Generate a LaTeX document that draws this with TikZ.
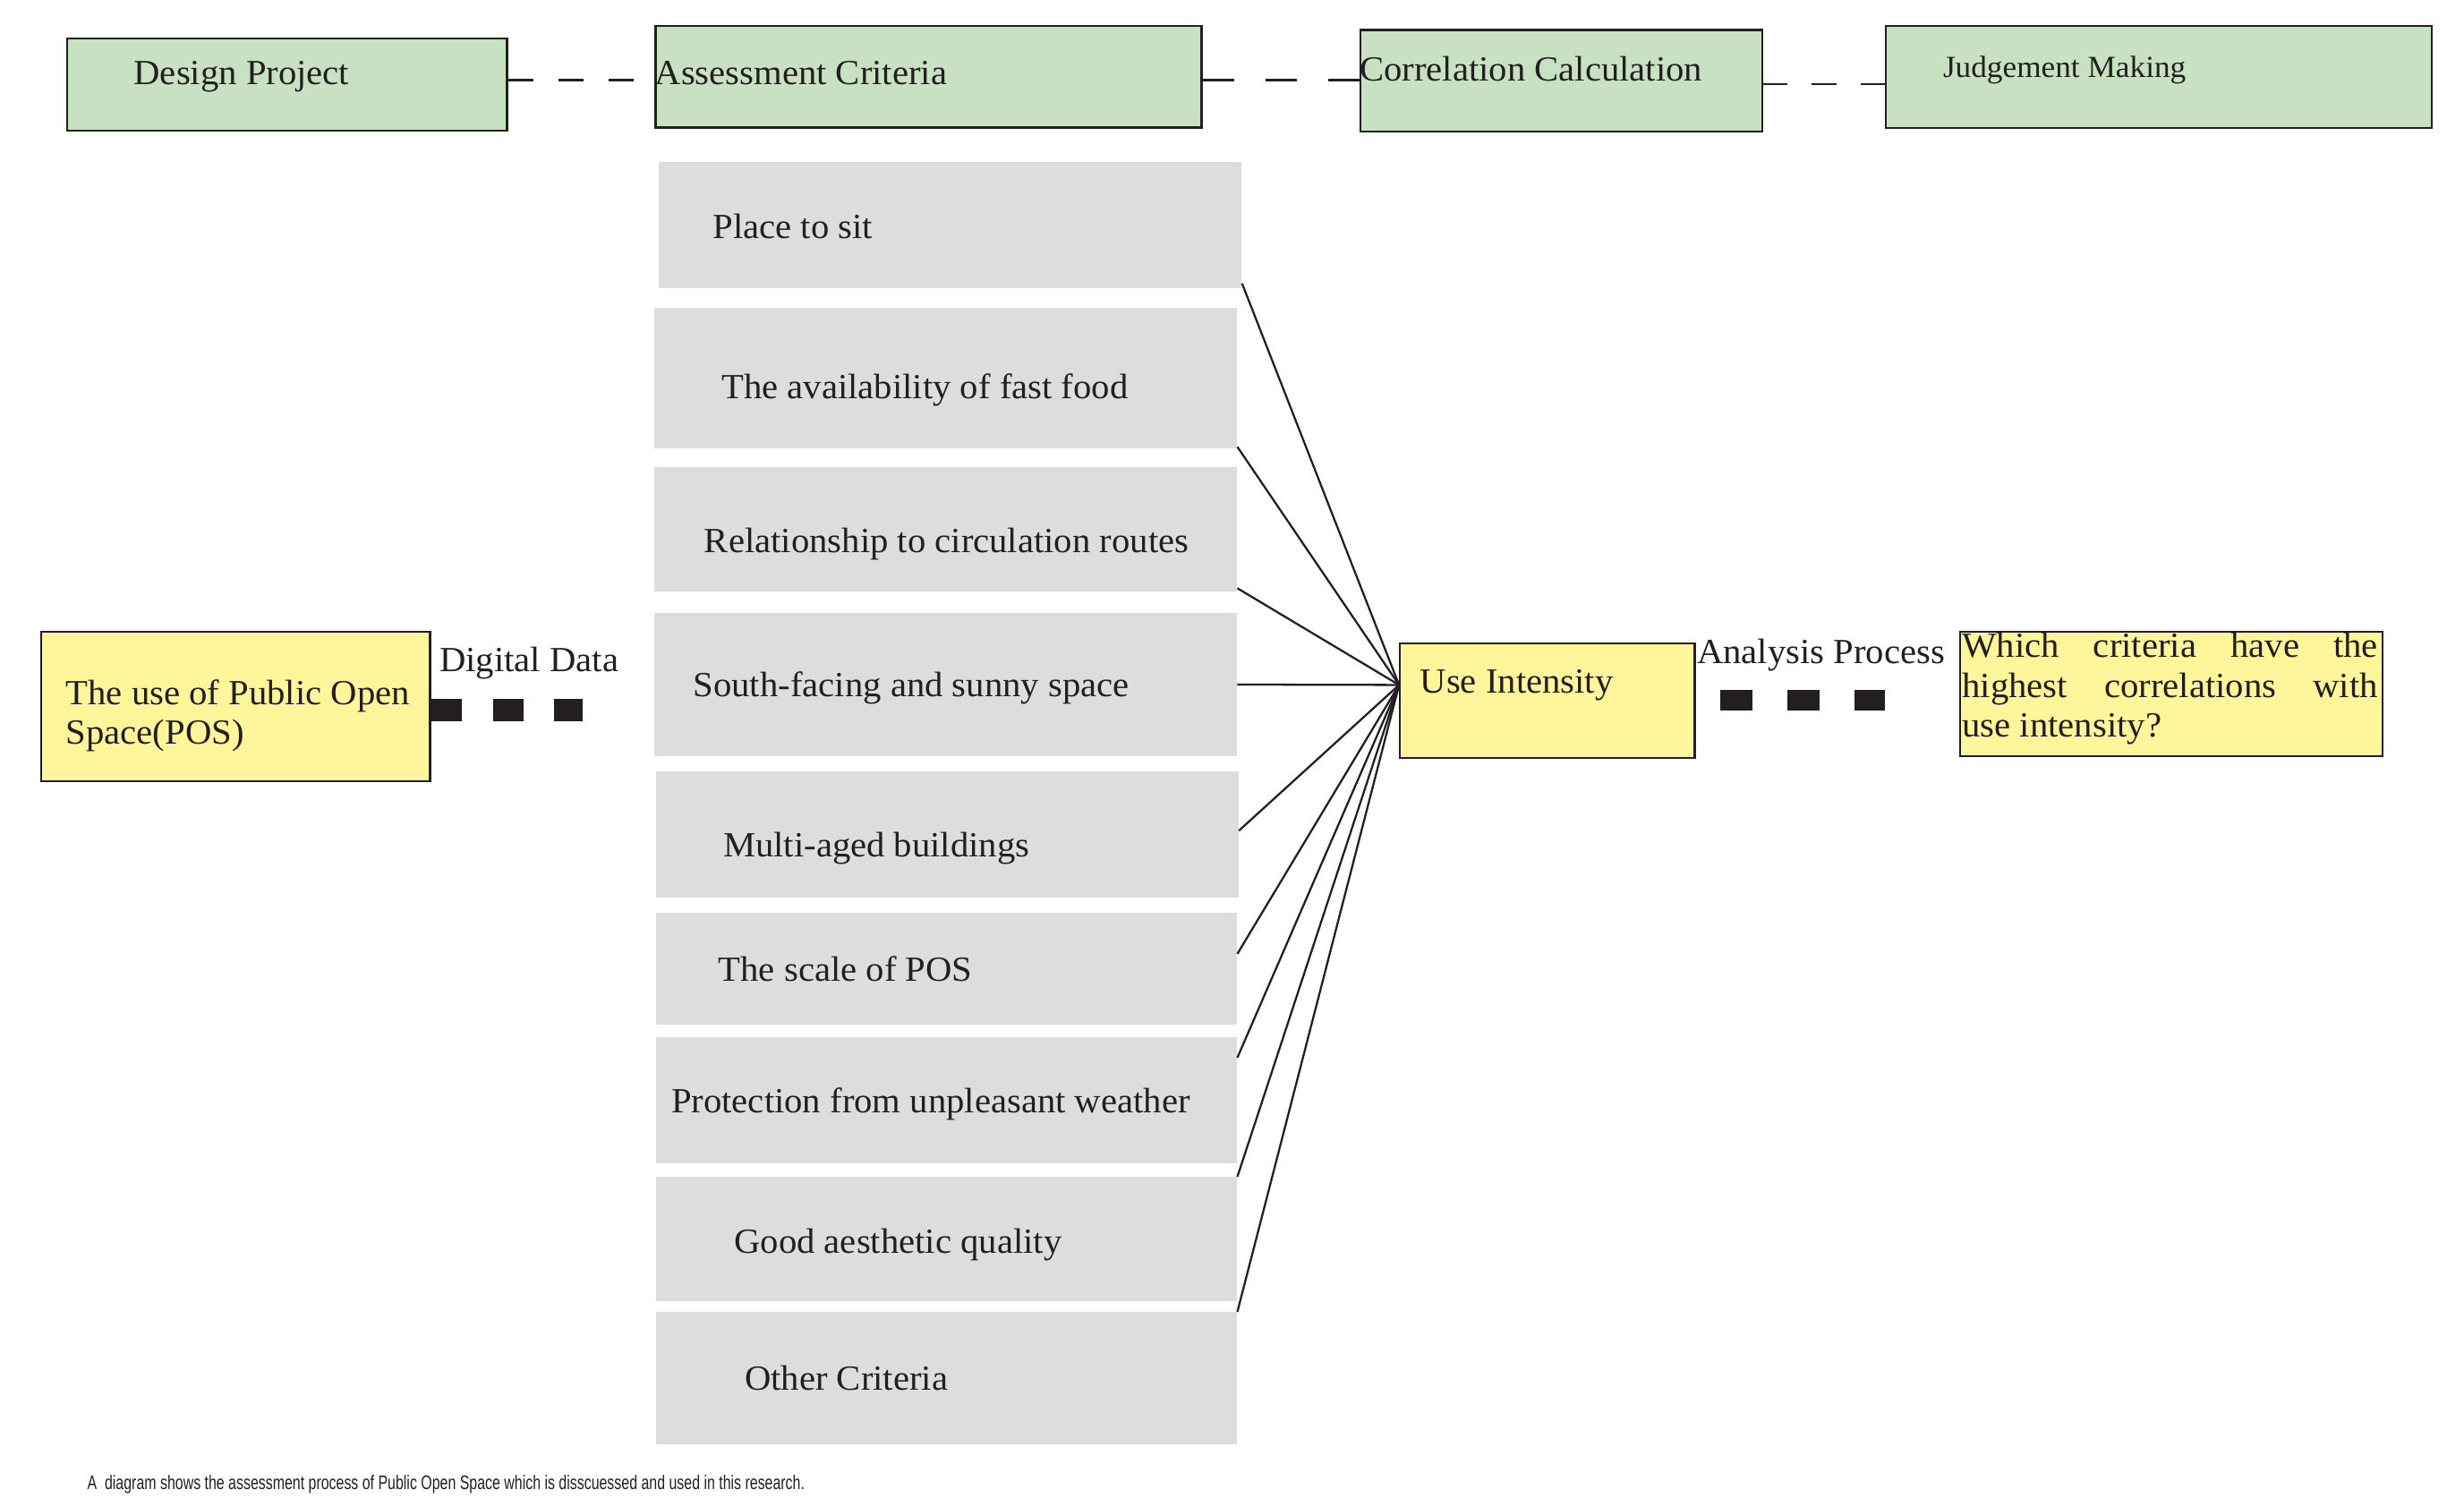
\documentclass[tikz,border=0pt]{standalone}
\usepackage{fontspec}
\setmainfont[FakeStretch=1.03]{Liberation Serif}
\newfontfamily\capfont[FakeStretch=0.726]{Liberation Sans}
\definecolor{boxgreen}{HTML}{C8E1C3}
\definecolor{boxyellow}{HTML}{FFF59A}
\definecolor{boxgray}{HTML}{DCDDDF}
\definecolor{ink}{HTML}{231F20}
\begin{document}
\begin{tikzpicture}[x=1pt,y=-1pt,
  greenbox/.style={draw=ink, line width=1.3pt, fill=boxgreen, rectangle, inner sep=0pt, anchor=north west},
  yellowbox/.style={draw=ink, line width=1.3pt, fill=boxyellow, rectangle, inner sep=0pt, anchor=north west},
  graybox/.style={fill=boxgray, rectangle, inner sep=0pt, anchor=north west},
  lbl/.style={anchor=base west, inner sep=0pt, text=ink, font=\fontsize{22.5}{25.5}\selectfont},
  link/.style={draw=ink, line width=1.3pt},
  dashlink/.style={draw=ink, line width=1.3pt},
  sqline/.style={draw=ink}
]
\useasboundingbox (0,0) rectangle (1568,953);

% top row
\node[greenbox, minimum width=280pt, minimum height=58.5pt] (dp) at (42,24) {};
\node[greenbox, minimum width=347.5pt, minimum height=64.5pt] (ac) at (416.5,16) {};
\node[greenbox, minimum width=255.7pt, minimum height=64.6pt] (cc) at (865,18.4) {};
\node[greenbox, minimum width=347.4pt, minimum height=64.7pt] (jm) at (1199.4,16) {};

\node[lbl] (dpT) at (85,54) {Design Project};
\node[lbl] (acT) at (416.5,54) {Assessment Criteria};
\node[lbl] (ccT) at (865,51.3) {Correlation Calculation};
\node[lbl, font=\fontsize{19.5}{23}\selectfont] (jmT) at (1236.3,49) {Judgement Making};

\coordinate (ya) at (0,50.9);
\coordinate (yb) at (0,53.5);
\draw[dashlink, dash pattern=on 16pt off 16pt] (dp.east |- ya) -- (ac.west |- ya);
\draw[dashlink, dash pattern=on 20pt off 20pt] (ac.east |- ya) -- (cc.west |- ya);
\draw[dashlink, dash pattern=on 15.5pt off 15.5pt] (cc.east |- yb) -- (jm.west |- yb);

% criteria column
\node[graybox, minimum width=371pt, minimum height=80pt] (c1) at (419,103) {};
\node[graybox, minimum width=371pt, minimum height=89pt] (c2) at (416,196) {};
\node[graybox, minimum width=371pt, minimum height=79pt] (c3) at (416,297) {};
\node[graybox, minimum width=371pt, minimum height=91pt] (c4) at (416,390) {};
\node[graybox, minimum width=371pt, minimum height=80pt] (c5) at (417,491) {};
\node[graybox, minimum width=370pt, minimum height=71pt] (c6) at (417,581) {};
\node[graybox, minimum width=370pt, minimum height=80pt] (c7) at (417,660) {};
\node[graybox, minimum width=370pt, minimum height=79pt] (c8) at (417,749) {};
\node[graybox, minimum width=370pt, minimum height=84pt] (c9) at (417,835) {};

\node[lbl] (c1T) at (453.4,152) {Place to sit};
\node[lbl] (c2T) at (459,253.5) {The availability of fast food};
\node[lbl] (c3T) at (448,351.5) {Relationship to circulation routes};
\node[lbl] (c4T) at (441,443.5) {South-facing and sunny space};
\node[lbl] (c5T) at (460,545.5) {Multi-aged buildings};
\node[lbl] (c6T) at (457,624.5) {The scale of POS};
\node[lbl] (c7T) at (427,708.5) {Protection from unpleasant weather};
\node[lbl] (c8T) at (467,797.5) {Good aesthetic quality};
\node[lbl] (c9T) at (473.7,885) {Other Criteria};

% yellow boxes
\node[yellowbox, minimum width=247.4pt, minimum height=95pt] (pos) at (25.6,401.5) {};
\node[yellowbox, minimum width=187.5pt, minimum height=72.6pt] (ui) at (890.3,409) {};
\node[yellowbox, minimum width=268.9pt, minimum height=79.2pt] (wc) at (1246.5,401.5) {};

\node[lbl] (posT) at (41.8,448.4) {\parbox[t]{240pt}{\raggedright\fontsize{22.5}{25}\selectfont The use of Public Open\\Space(POS)}};
\node[lbl] (uiT) at (903.5,441.4) {Use Intensity};
\node[lbl] (wcT) at (1248.5,418.6) {\parbox[t]{264.5pt}{\fontsize{22.5}{25.2}\selectfont\hyphenpenalty=10000\parfillskip=0pt plus 1fil Which criteria have the\linebreak highest correlations with\linebreak use intensity?}};

\node[lbl] (ddT) at (279.5,427.6) {Digital Data};
\node[lbl] (apT) at (1079.7,422.4) {Analysis Process};

% square-dot connectors
\coordinate (yd) at (0,452);
\coordinate (ys) at (0,445.5);
\draw[sqline, line width=14pt, dash pattern=on 19.5pt off 19.75pt] (pos.east |- yd) -- ([xshift=-45pt]c4.west |- yd);
\draw[sqline, line width=13pt, dash pattern=on 20.5pt off 22.2pt] ([xshift=15.8pt]ui.east |- ys) -- ([xshift=-47pt]wc.west |- ys);

% fan of links
\coordinate (hub) at ([yshift=10pt]ui.west);
\draw[link] ([yshift=3pt]c1.south east) -- (hub);
\draw[link] ([yshift=1pt]c2.south east) -- (hub);
\draw[link] ([yshift=2pt]c3.south east) -- (hub);
\draw[link] (c4.east) -- (hub);
\draw[link] ([yshift=2.5pt]c5.east) -- (hub);
\draw[link] ([yshift=9.6pt]c6.east) -- (hub);
\draw[link] ([yshift=27pt]c7.east) -- (hub);
\draw[link] (c8.north east) -- (hub);
\draw[link] (c9.north east) -- (hub);

% caption
\node[anchor=base west, inner sep=0pt, text=ink, font=\capfont\fontsize{12.5}{14}\selectfont] (cap) at (55.4,948.3) {A\ \ diagram shows the assessment process of Public Open Space which is disscuessed and used in this research.};
\end{tikzpicture}
\end{document}
